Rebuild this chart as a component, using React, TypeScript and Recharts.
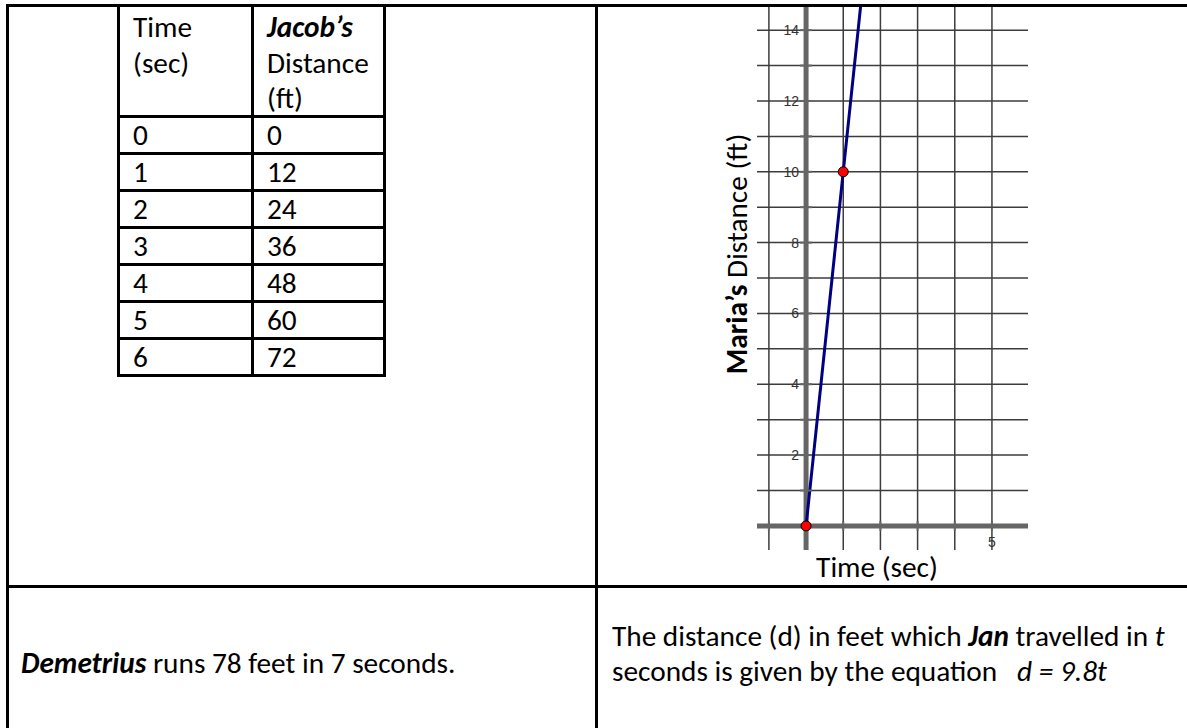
import { ReferenceDot, ReferenceLine, Scatter, ScatterChart, XAxis, YAxis } from "recharts";

// Jacob's table
const jacobTimes = [0, 1, 2, 3, 4, 5, 6];
const jacobDistances = [0, 12, 24, 36, 48, 60, 72];

// Maria's graph: the two marked points the line runs through
const mariaPoints = [
  { t: 0, d: 0 },
  { t: 1, d: 10 },
];

const xGridTicks = [-1, 0, 1, 2, 3, 4, 5];
const yGridTicks = [0, 1, 2, 3, 4, 5, 6, 7, 8, 9, 10, 11, 12, 13, 14];
const xTickLabels = [5];
const yTickLabels = [2, 4, 6, 8, 10, 12, 14];

const X_DOMAIN: [number, number] = [-1.32, 5.97];
const Y_DOMAIN: [number, number] = [-0.68, 14.71];

const FONT = "Calibri, Carlito, Lato, sans-serif";
const FS = 29.3;
const AXIS_GRAY = "#666";
const GRID = "#3c3c3c";
const TICK_FONT = "Liberation Sans, Arial, sans-serif";

function Rule({ left, top, width, height }: { left: number; top: number; width: number; height: number }) {
  return <div style={{ position: "absolute", left, top, width, height, background: "#000" }} />;
}

function Txt({ left, cy, children }: { left: number; cy: number; children: React.ReactNode }) {
  return (
    <div style={{ position: "absolute", left, top: cy, transform: "translateY(-50%)", whiteSpace: "nowrap", fontSize: FS, lineHeight: 1 }}>
      {children}
    </div>
  );
}

function JacobTable() {
  const left = 117, mid = 251, right = 383;
  const headerBottom = 116, rowH = 37.0;
  const lines = jacobTimes.map((_, i) => headerBottom + (i + 1) * rowH);
  const bottom = lines[lines.length - 1];
  return (
    <>
      <Rule left={left} top={5} width={3} height={bottom - 5 + 1} />
      <Rule left={mid} top={5} width={3} height={bottom - 5 + 1} />
      <Rule left={right} top={5} width={3} height={bottom - 5 + 1} />
      <Rule left={left} top={headerBottom - 1} width={right - left + 3} height={3} />
      {lines.map((y) => (
        <Rule key={y} left={left} top={Math.round(y) - 1} width={right - left + 3} height={3} />
      ))}

      <Txt left={133} cy={28}>Time</Txt>
      <Txt left={133} cy={64}>(sec)</Txt>
      <Txt left={267} cy={28}><b><i>Jacob’s</i></b></Txt>
      <Txt left={267} cy={64}>Distance</Txt>
      <Txt left={267} cy={99}>(ft)</Txt>

      {jacobTimes.map((t, i) => {
        const cy = headerBottom + i * rowH + rowH / 2 + 1;
        return (
          <div key={t}>
            <Txt left={133} cy={cy}>{t}</Txt>
            <Txt left={267} cy={cy}>{jacobDistances[i]}</Txt>
          </div>
        );
      })}
    </>
  );
}

function MariaChart() {
  const p0 = mariaPoints[0];
  const p1 = mariaPoints[1];
  const slope = (p1.d - p0.d) / (p1.t - p0.t);
  const topD = Y_DOMAIN[1] + 1;
  const topT = p0.t + (topD - p0.d) / slope;

  return (
    <div style={{ position: "absolute", left: 700, top: 0 }}>
      <ScatterChart width={340} height={560} margin={{ top: 5, right: 12, bottom: 10, left: 57 }}>
        <XAxis type="number" dataKey="t" domain={X_DOMAIN} ticks={xGridTicks} allowDataOverflow height={0} tick={false} axisLine={false} tickLine={false} />
        <YAxis type="number" dataKey="d" domain={Y_DOMAIN} ticks={yGridTicks} allowDataOverflow width={0} tick={false} axisLine={false} tickLine={false} />

        {/* grid */}
        {xGridTicks.filter((v) => v !== 0).map((v) => (
          <ReferenceLine key={`gx${v}`} x={v} stroke={GRID} strokeWidth={1.5} />
        ))}
        {yGridTicks.filter((v) => v !== 0).map((v) => (
          <ReferenceLine key={`gy${v}`} y={v} stroke={GRID} strokeWidth={1.5} />
        ))}

        {/* axes */}
        <ReferenceLine x={0} stroke={AXIS_GRAY} strokeWidth={5} />
        <ReferenceLine y={0} stroke={AXIS_GRAY} strokeWidth={5} />

        {/* tick marks */}
        {yGridTicks.filter((v) => v > 0).map((v) => (
          <ReferenceDot key={`yt${v}`} x={0} y={v} r={0}
            shape={(p: any) => <line x1={p.cx - 6} x2={p.cx + 6} y1={p.cy} y2={p.cy} stroke={AXIS_GRAY} strokeWidth={2} />} />
        ))}
        {xGridTicks.filter((v) => v !== 0).map((v) => (
          <ReferenceDot key={`xt${v}`} x={v} y={0} r={0}
            shape={(p: any) => <line x1={p.cx} x2={p.cx} y1={p.cy - 5} y2={p.cy + 5} stroke={AXIS_GRAY} strokeWidth={2} />} />
        ))}

        {/* tick labels */}
        {yTickLabels.map((v) => (
          <ReferenceDot key={`yl${v}`} x={0} y={v} r={0}
            shape={(p: any) => (
              <text x={p.cx - 7} y={p.cy} textAnchor="end" dominantBaseline="central" fontFamily={TICK_FONT} fontSize={14} fill="#333">{v}</text>
            )} />
        ))}
        {xTickLabels.map((v) => (
          <ReferenceDot key={`xl${v}`} x={v} y={0} r={0}
            shape={(p: any) => (
              <text x={p.cx} y={p.cy + 16} textAnchor="middle" dominantBaseline="central" fontFamily={TICK_FONT} fontSize={14} fill="#333">{v}</text>
            )} />
        ))}

        {/* Maria's line through the marked points */}
        <ReferenceLine segment={[{ x: p0.t, y: p0.d }, { x: topT, y: topD }]} stroke="#000080" strokeWidth={3} ifOverflow="hidden" />
        <Scatter data={mariaPoints} dataKey="d" isAnimationActive={false}
          shape={(p: any) => <circle cx={p.cx} cy={p.cy} r={5} fill="#ff0000" stroke="#000" strokeWidth={1} />} />
      </ScatterChart>
    </div>
  );
}

export default function App() {
  return (
    <div style={{ position: "absolute", left: 0, top: 0, width: 1187, height: 728, overflow: "hidden", background: "#fff", fontFamily: FONT, color: "#000" }}>
      <JacobTable />
      <MariaChart />

      {/* axis titles */}
      <div style={{ position: "absolute", left: 738, top: 254, transform: "translate(-50%, -50%) rotate(-90deg)", whiteSpace: "nowrap", fontSize: FS, lineHeight: 1 }}>
        <b>Maria’s</b> Distance (ft)
      </div>
      <div style={{ position: "absolute", left: 877, top: 568, transform: "translate(-50%, -50%)", whiteSpace: "nowrap", fontSize: FS, lineHeight: 1 }}>
        Time (sec)
      </div>

      {/* outer table rules */}
      <Rule left={6} top={4} width={1181} height={3} />
      <Rule left={6} top={4} width={3} height={724} />
      <Rule left={595} top={4} width={3} height={724} />
      <Rule left={6} top={585} width={1181} height={3} />

      {/* bottom row */}
      <Txt left={21} cy={664}><b><i>Demetrius</i></b> runs 78 feet in 7 seconds.</Txt>
      <Txt left={612} cy={637}>The distance (d) in feet which <b><i>Jan</i></b> travelled in <i>t</i></Txt>
      <Txt left={612} cy={672}>seconds is given by the equation &nbsp;&nbsp;<i>d = 9.8t</i></Txt>
    </div>
  );
}
